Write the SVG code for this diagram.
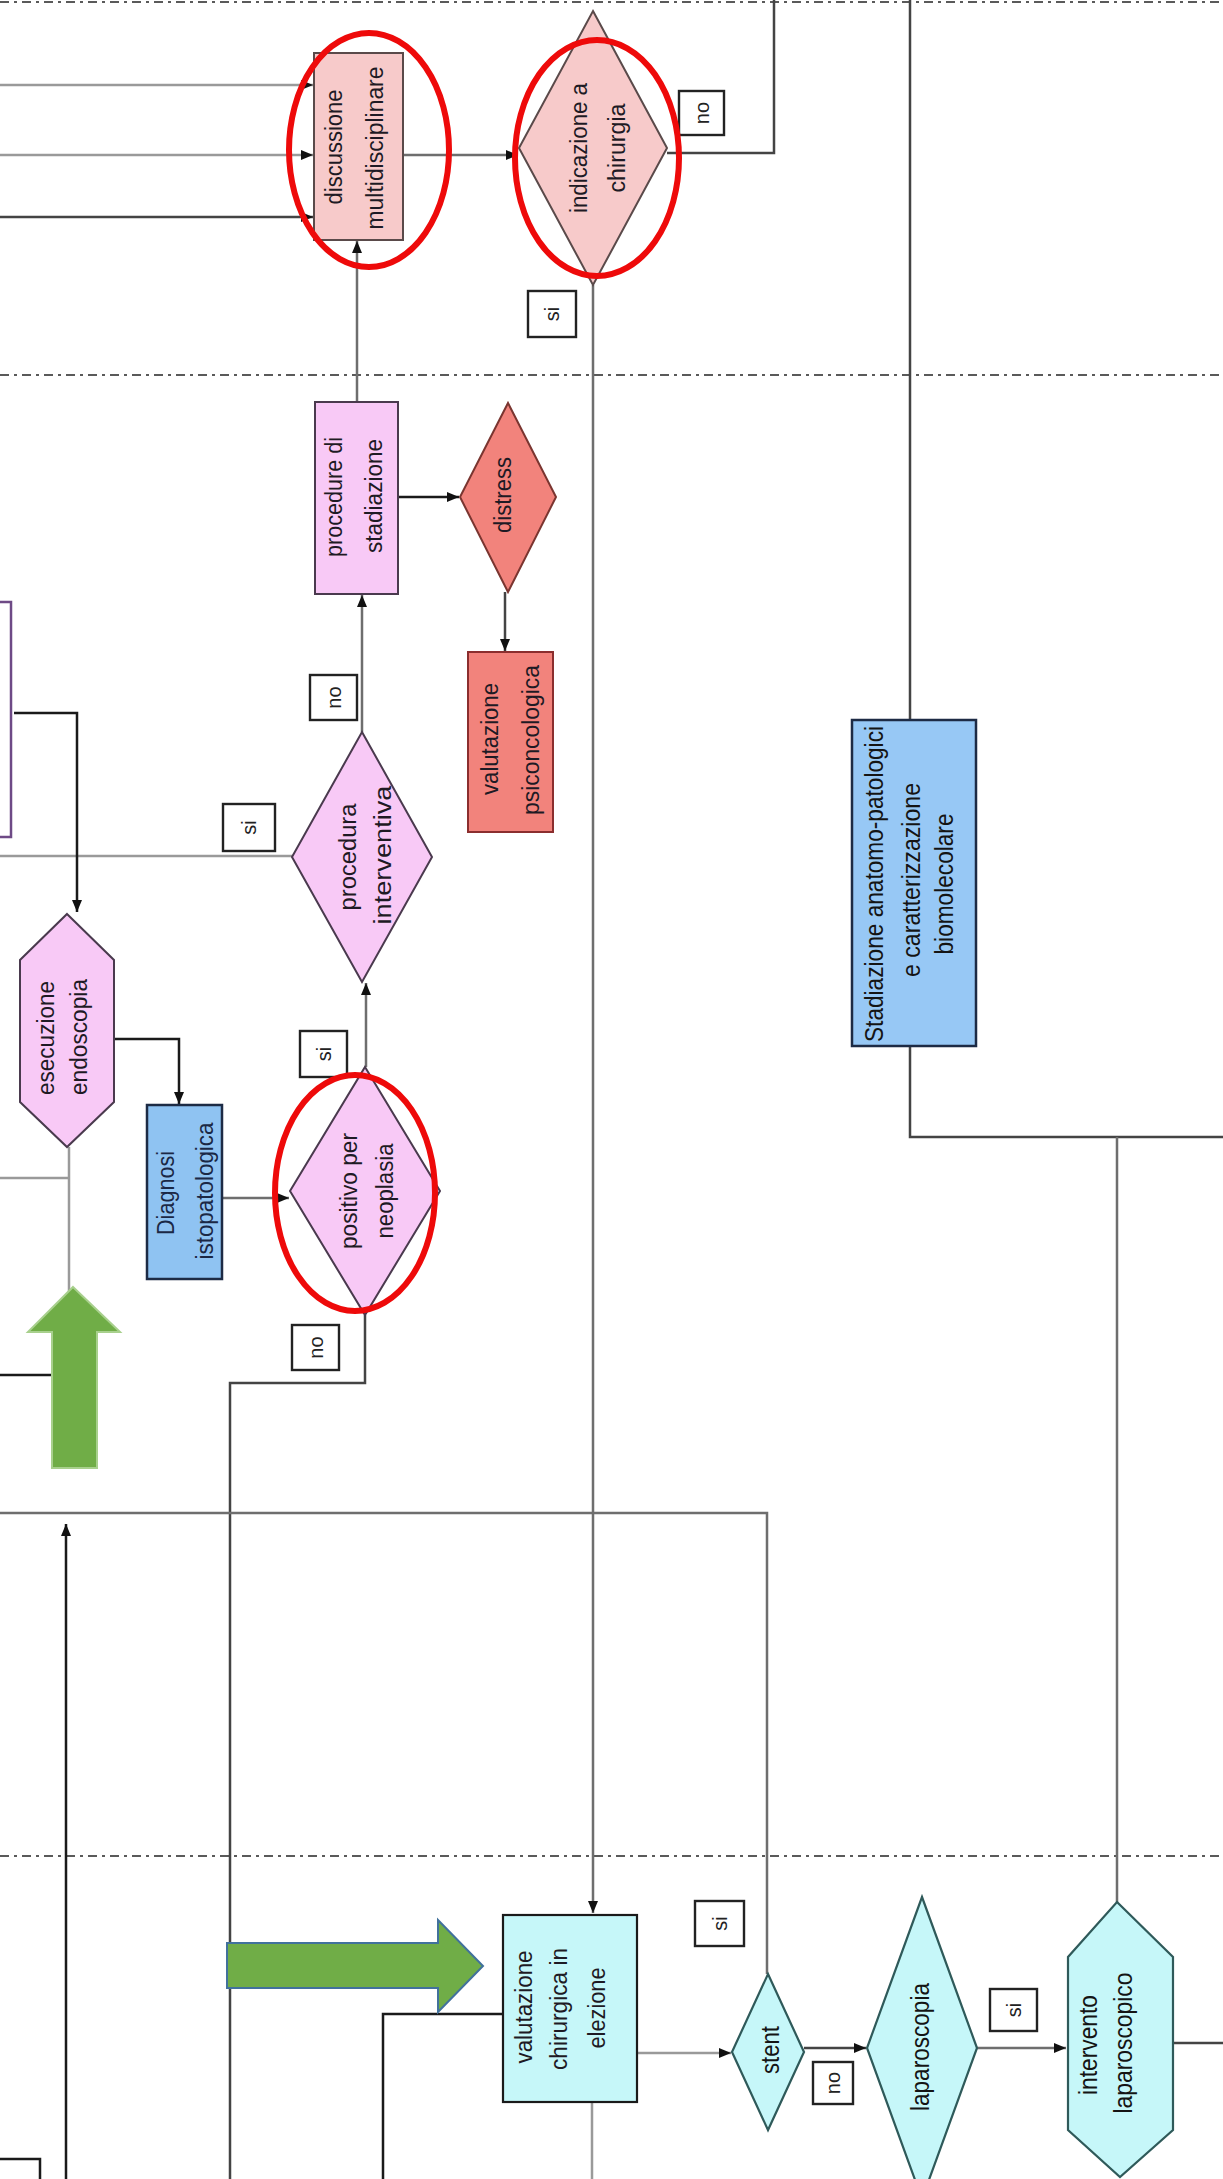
<svg xmlns="http://www.w3.org/2000/svg" width="1223" height="2179" viewBox="0 0 1223 2179">
  <defs>
    <marker id="arr" viewBox="0 0 12 10" refX="12" refY="5" markerWidth="12" markerHeight="10" markerUnits="userSpaceOnUse" orient="auto">
      <path d="M0,0 L12,5 L0,10 z" fill="#111"/>
    </marker>
    <style>
      .lane { stroke: #5a5a5a; stroke-width: 2.2; stroke-dasharray: 9 5 3 5; fill: none; }
      .c { fill: none; stroke-width: 2.5; }
      .g1 { stroke: #9a9a9a; }
      .g2 { stroke: #6e6e6e; }
      .g3 { stroke: #444; }
      .k { stroke: #1a1a1a; }
      .t { font-family: "Liberation Sans", Arial, sans-serif; font-size: 23px; text-anchor: middle; dominant-baseline: central; fill: #1e1a24; }
      .tn { font-family: "Liberation Sans Narrow", "Liberation Sans", Arial, sans-serif; font-size: 25px; text-anchor: middle; dominant-baseline: central; fill: #141414; }
      .lbl rect { fill: #fff; stroke: #222; stroke-width: 2.4; }
      .lbl text { font-family: "Liberation Sans", Arial, sans-serif; font-size: 20px; text-anchor: middle; dominant-baseline: central; fill: #222; }
      .pink { fill: #f7caca; stroke: #5a4a4a; stroke-width: 2; }
      .mag { fill: #f8c9f6; stroke: #4a3a4e; stroke-width: 2; }
      .salmon { fill: #f2837c; stroke: #7a3530; stroke-width: 2; }
      .blue { fill: #8fc3f2; stroke: #1d2b45; stroke-width: 2.5; }
      .cyan { fill: #c6f7f9; stroke: #2f5a5a; stroke-width: 2.2; }
      .ring { fill: none; stroke: #ee0a0a; stroke-width: 6; }
    </style>
  </defs>

  <rect width="1223" height="2179" fill="#fff"/>

  <!-- swimlane separators -->
  <g id="lanes">
    <line class="lane" x1="0" y1="2" x2="1223" y2="2"/>
    <line class="lane" x1="0" y1="375" x2="1223" y2="375"/>
    <line class="lane" x1="0" y1="1856" x2="1223" y2="1856"/>
  </g>

  <!-- connectors -->
  <g id="connectors">
    <path class="c g1" d="M0,85 H313" marker-end="url(#arr)"/>
    <path class="c g1" d="M0,155 H313" marker-end="url(#arr)"/>
    <path class="c g3" d="M0,217 H313" marker-end="url(#arr)"/>
    <path class="c g2" d="M403,155 H518" marker-end="url(#arr)"/>
    <path class="c g3" d="M667,153 H774 V0"/>
    <path class="c g2" d="M593,285 V1913" marker-end="url(#arr)"/>
    <path class="c g2" d="M357,402 V241" marker-end="url(#arr)"/>
    <path class="c k" d="M398,497 H459" marker-end="url(#arr)"/>
    <path class="c g3" d="M505,592 V651" marker-end="url(#arr)"/>
    <path class="c g2" d="M362,732 V595" marker-end="url(#arr)"/>
    <path class="c g1" d="M0,856 H292"/>
    <path class="c k" d="M14,713 H77 V912" marker-end="url(#arr)"/>
    <path class="c k" d="M113,1039 H179 V1104" marker-end="url(#arr)"/>
    <path class="c g2" d="M222,1198 H289" marker-end="url(#arr)"/>
    <path class="c g2" d="M366,1067 V983" marker-end="url(#arr)"/>
    <path class="c g3" d="M365,1315 V1383 H230 V2179"/>
    <path class="c g1" d="M69,1147 V1300"/>
    <path class="c g1" d="M0,1178 H69"/>
    <path class="c k" d="M0,1375 H60"/>
    <path class="c g2" d="M0,1513 H767 V1974"/>
    <path class="c k" d="M66,2179 V1524" marker-end="url(#arr)"/>
    <path class="c k" d="M503,2014 H383 V2179"/>
    <path class="c g1" d="M637,2053 H731" marker-end="url(#arr)"/>
    <path class="c g1" d="M592,2102 V2179"/>
    <path class="c g3" d="M804,2048 H866" marker-end="url(#arr)"/>
    <path class="c g2" d="M977,2048 H1066" marker-end="url(#arr)"/>
    <path class="c g3" d="M1173,2043 H1223"/>
    <path class="c g3" d="M910,0 V720"/>
    <path class="c g3" d="M910,1046 V1137 H1223"/>
    <path class="c g2" d="M1117,1137 V1902"/>
    <path class="c k" d="M0,2159 H40 V2179"/>
  </g>

  <!-- edge of a box that continues beyond the left margin -->
  <g id="box-left-edge">
    <rect x="-60" y="602" width="71" height="235" fill="#fff" stroke="#6e4a86" stroke-width="2.5"/>
  </g>

  <!-- nodes -->
  <g id="discussione-multidisciplinare">
    <rect class="pink" x="314" y="53" width="89" height="187"/>
    <text class="t" transform="translate(334,147) rotate(-90)" textLength="115" lengthAdjust="spacingAndGlyphs">discussione</text>
    <text class="t" transform="translate(375,148) rotate(-90)" textLength="163" lengthAdjust="spacingAndGlyphs">multidisciplinare</text>
  </g>

  <g id="indicazione-chirurgia">
    <polygon class="pink" points="593,11 667,148 593,285 519,148"/>
    <text class="t" transform="translate(579,148) rotate(-90)" textLength="130" lengthAdjust="spacingAndGlyphs">indicazione a</text>
    <text class="t" transform="translate(617,148) rotate(-90)" textLength="89" lengthAdjust="spacingAndGlyphs">chirurgia</text>
  </g>

  <g id="procedure-stadiazione">
    <rect class="mag" x="315" y="402" width="83" height="192"/>
    <text class="t" transform="translate(334,497) rotate(-90)" textLength="120" lengthAdjust="spacingAndGlyphs">procedure di</text>
    <text class="t" transform="translate(374,496) rotate(-90)" textLength="114" lengthAdjust="spacingAndGlyphs">stadiazione</text>
  </g>

  <g id="distress">
    <polygon class="salmon" points="508,403 556,497 508,592 460,497"/>
    <text class="t" transform="translate(503,495) rotate(-90)" textLength="76" lengthAdjust="spacingAndGlyphs">distress</text>
  </g>

  <g id="valutazione-psiconcologica">
    <rect class="salmon" x="468" y="652" width="85" height="180" style="stroke:#8b2e2e"/>
    <text class="t" transform="translate(490,739) rotate(-90)" textLength="112" lengthAdjust="spacingAndGlyphs">valutazione</text>
    <text class="t" transform="translate(531,740) rotate(-90)" textLength="150" lengthAdjust="spacingAndGlyphs">psiconcologica</text>
  </g>

  <g id="procedura-interventiva">
    <polygon class="mag" points="362,732 432,857 362,982 292,857"/>
    <text class="t" transform="translate(348,857) rotate(-90)" textLength="107" lengthAdjust="spacingAndGlyphs">procedura</text>
    <text class="t" transform="translate(383,855) rotate(-90)" textLength="139" lengthAdjust="spacingAndGlyphs">interventiva</text>
  </g>

  <g id="esecuzione-endoscopia">
    <polygon class="mag" points="67,914 114,960 114,1102 67,1147 20,1102 20,960"/>
    <text class="t" transform="translate(46,1038) rotate(-90)" textLength="114" lengthAdjust="spacingAndGlyphs">esecuzione</text>
    <text class="t" transform="translate(79,1037) rotate(-90)" textLength="116" lengthAdjust="spacingAndGlyphs">endoscopia</text>
  </g>

  <g id="diagnosi-istopatologica">
    <rect class="blue" x="147" y="1105" width="75" height="174"/>
    <text class="t" transform="translate(166,1193) rotate(-90)" textLength="84" lengthAdjust="spacingAndGlyphs" style="fill:#1b2845">Diagnosi</text>
    <text class="t" transform="translate(205,1191) rotate(-90)" textLength="137" lengthAdjust="spacingAndGlyphs" style="fill:#1b2845">istopatologica</text>
  </g>

  <g id="positivo-neoplasia">
    <polygon class="mag" points="365,1067 440,1191 365,1315 290,1191"/>
    <text class="t" transform="translate(349,1191) rotate(-90)" textLength="116" lengthAdjust="spacingAndGlyphs">positivo per</text>
    <text class="t" transform="translate(385,1191) rotate(-90)" textLength="95" lengthAdjust="spacingAndGlyphs">neoplasia</text>
  </g>

  <g id="stadiazione-anatomo-patologica">
    <rect class="blue" x="852" y="720" width="124" height="326" style="fill:#97c8f5"/>
    <text class="tn" transform="translate(874,884) rotate(-90)" textLength="316" lengthAdjust="spacingAndGlyphs">Stadiazione anatomo-patologici</text>
    <text class="tn" transform="translate(911,880) rotate(-90)" textLength="194" lengthAdjust="spacingAndGlyphs">e caratterizzazione</text>
    <text class="tn" transform="translate(944,884) rotate(-90)" textLength="141" lengthAdjust="spacingAndGlyphs">biomolecolare</text>
  </g>

  <g id="valutazione-chirurgica">
    <rect class="cyan" x="503" y="1915" width="134" height="187" style="stroke:#1a1a1a"/>
    <text class="t" transform="translate(524,2007) rotate(-90)" textLength="113" lengthAdjust="spacingAndGlyphs">valutazione</text>
    <text class="t" transform="translate(559,2009) rotate(-90)" textLength="122" lengthAdjust="spacingAndGlyphs">chirurgica in</text>
    <text class="t" transform="translate(597,2008) rotate(-90)" textLength="81" lengthAdjust="spacingAndGlyphs">elezione</text>
  </g>

  <g id="stent">
    <polygon class="cyan" points="768,1974 804,2052 768,2130 732,2052"/>
    <text class="tn" transform="translate(770,2050) rotate(-90)" textLength="48" lengthAdjust="spacingAndGlyphs">stent</text>
  </g>

  <g id="laparoscopia">
    <polygon class="cyan" points="922,1897 977,2048 922,2199 867,2048"/>
    <text class="tn" transform="translate(920,2047) rotate(-90)" textLength="128" lengthAdjust="spacingAndGlyphs">laparoscopia</text>
  </g>

  <g id="intervento-laparoscopico">
    <polygon class="cyan" points="1117,1902 1173,1957 1173,2130 1120,2177 1068,2130 1068,1957"/>
    <text class="tn" transform="translate(1088,2045) rotate(-90)" textLength="100" lengthAdjust="spacingAndGlyphs">intervento</text>
    <text class="tn" transform="translate(1123,2043) rotate(-90)" textLength="141" lengthAdjust="spacingAndGlyphs">laparoscopico</text>
  </g>

  <!-- decision labels -->
  <g id="labels">
    <g class="lbl"><rect x="679" y="91" width="45" height="44"/><text transform="translate(701.5,113) rotate(-90)">no</text></g>
    <g class="lbl"><rect x="528" y="291" width="48" height="46"/><text transform="translate(552,314) rotate(-90)">si</text></g>
    <g class="lbl"><rect x="310" y="675" width="47" height="45"/><text transform="translate(333.5,697.5) rotate(-90)">no</text></g>
    <g class="lbl"><rect x="223" y="804" width="52" height="47"/><text transform="translate(249,827.5) rotate(-90)">si</text></g>
    <g class="lbl"><rect x="300" y="1031" width="47" height="46"/><text transform="translate(323.5,1054) rotate(-90)">si</text></g>
    <g class="lbl"><rect x="292" y="1325" width="47" height="45"/><text transform="translate(315.5,1347.5) rotate(-90)">no</text></g>
    <g class="lbl"><rect x="695" y="1901" width="49" height="45"/><text transform="translate(719.5,1923.5) rotate(-90)">si</text></g>
    <g class="lbl"><rect x="813" y="2062" width="40" height="42"/><text transform="translate(833,2083) rotate(-90)">no</text></g>
    <g class="lbl"><rect x="990" y="1989" width="47" height="42"/><text transform="translate(1013.5,2010) rotate(-90)">si</text></g>
  </g>

  <!-- highlight arrows -->
  <g id="arrow-up">
    <polygon points="73,1287 120,1332 97,1332 97,1468 52,1468 52,1332 28,1332" fill="#70ad47" stroke="#a8d08d" stroke-width="2"/>
  </g>
  <g id="arrow-right">
    <polygon points="227,1943 438,1943 438,1920 483,1966 438,2012 438,1988 227,1988" fill="#70ad47" stroke="#41719c" stroke-width="2"/>
  </g>

  <!-- highlight rings -->
  <g id="rings">
    <ellipse class="ring" cx="369" cy="150" rx="80" ry="117"/>
    <ellipse class="ring" cx="597" cy="158" rx="82" ry="118"/>
    <ellipse class="ring" cx="355" cy="1193" rx="80" ry="118"/>
  </g>
</svg>
